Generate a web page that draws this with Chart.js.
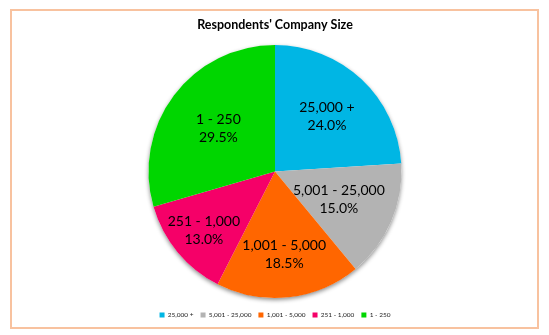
<!DOCTYPE html>
<html>
<head>
<meta charset="utf-8">
<script src="https://cdn.jsdelivr.net/npm/chart.js@4.4.1/dist/chart.umd.min.js"></script>
<style>
  html, body { margin: 0; padding: 0; background: #fff; }
  #wrap { position: relative; width: 549px; height: 335px; }
  #frame {
    position: absolute; left: 10px; top: 9px;
    width: 525px; height: 316px;
    border: 2px solid #F8C29F;
  }
  #chart { position: absolute; left: 0; top: 0; }
</style>
</head>
<body>
<div id="wrap">
  <div id="frame"></div>
  <canvas id="chart" width="549" height="335"></canvas>
</div>
<script>
// Tamaño de empresa de los encuestados
const categories = ['25,000 +', '5,001 - 25,000', '1,001 - 5,000', '251 - 1,000', '1 - 250'];
const shares = [24.0, 15.0, 18.5, 13.0, 29.5];
const sliceColors = ['#00B6E4', '#B3B3B3', '#FF6600', '#F50068', '#00D600'];

// Sombra suave debajo del pastel
const pieShadow = {
  id: 'pieShadow',
  beforeDatasetsDraw(chart) {
    const arc = chart.getDatasetMeta(0).data[0];
    if (!arc) return;
    const { x, y, outerRadius } = arc.getProps(['x', 'y', 'outerRadius'], true);
    const ctx = chart.ctx;
    ctx.save();
    ctx.shadowColor = 'rgba(0,0,0,0.45)';
    ctx.shadowBlur = 4;
    ctx.shadowOffsetY = 2;
    ctx.beginPath();
    ctx.arc(x, y, outerRadius, 0, Math.PI * 2);
    ctx.fillStyle = '#ffffff';
    ctx.fill();
    ctx.restore();
  }
};

// Etiquetas dentro de cada porción: categoría y porcentaje
const sliceLabels = {
  id: 'sliceLabels',
  afterDatasetsDraw(chart, args, opts) {
    const ctx = chart.ctx;
    const meta = chart.getDatasetMeta(0);
    ctx.save();
    ctx.font = opts.font;
    ctx.fillStyle = '#000';
    ctx.textAlign = 'center';
    ctx.textBaseline = 'middle';
    meta.data.forEach((arc, i) => {
      const p = arc.getProps(['x', 'y', 'startAngle', 'endAngle', 'outerRadius'], true);
      const mid = (p.startAngle + p.endAngle) / 2;
      const r = p.outerRadius * opts.distance[i];
      const cx = p.x + Math.cos(mid) * r;
      const cy = p.y + Math.sin(mid) * r;
      ctx.fillText(categories[i], cx, cy - opts.lineGap / 2);
      ctx.fillText(shares[i].toFixed(1) + '%', cx, cy + opts.lineGap / 2);
    });
    ctx.restore();
  }
};

const ctx = document.getElementById('chart').getContext('2d');
const companyChart = new Chart(ctx, {
  type: 'pie',
  data: {
    labels: categories,
    datasets: [{
      data: shares,
      backgroundColor: sliceColors,
      borderWidth: 0,
      radius: 126.5
    }]
  },
  options: {
    responsive: false,
    animation: false,
    layout: {
      padding: { top: 17.5, bottom: 6.75, left: 1, right: 0 }
    },
    plugins: {
      title: {
        display: true,
        text: "Respondents' Company Size",
        color: '#000',
        font: { family: 'Lato', size: 12.5, weight: 'bold' },
        padding: { top: 0, bottom: 5.75 }
      },
      legend: {
        position: 'bottom',
        labels: {
          color: '#222',
          font: { family: 'Lato', size: 6.5 },
          boxWidth: 5,
          boxHeight: 5,
          padding: 7
        }
      },
      tooltip: { enabled: false },
      sliceLabels: {
        font: '14px Lato',
        lineGap: 18,
        distance: [0.6, 0.55, 0.66, 0.73, 0.56]
      }
    }
  },
  plugins: [pieShadow, sliceLabels]
});
</script>
</body>
</html>
